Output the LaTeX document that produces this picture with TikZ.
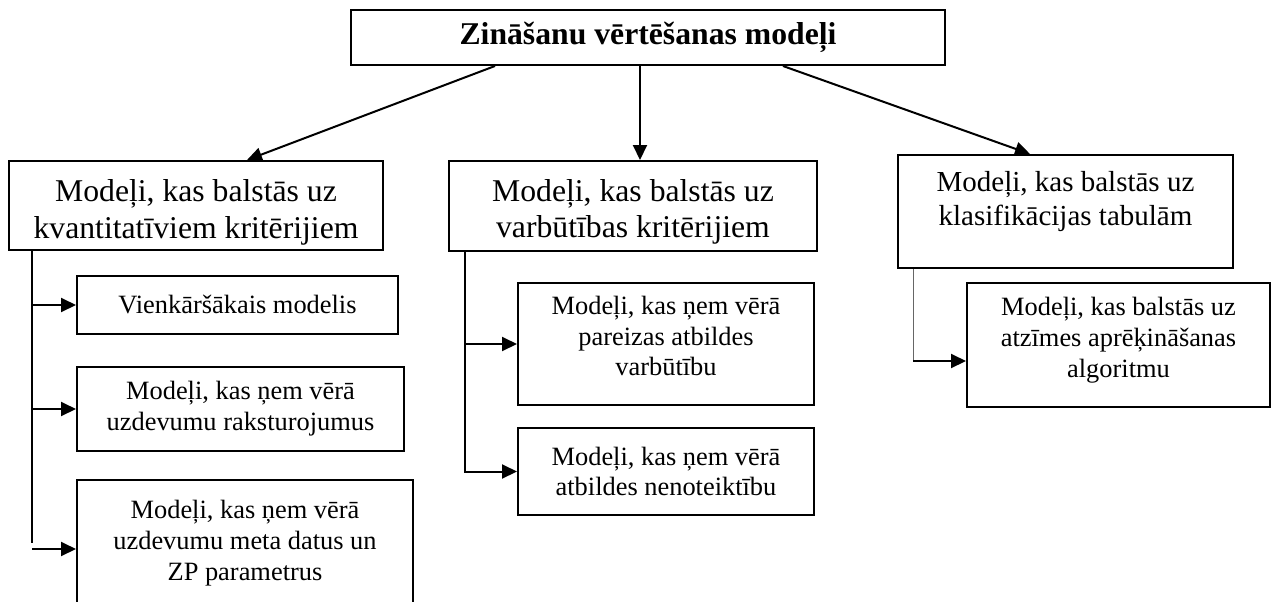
\documentclass[tikz,border=0pt]{standalone}
\usepackage{fontspec}
\setmainfont{Liberation Serif}
\usetikzlibrary{arrows.meta,calc}
\begin{document}
\begin{tikzpicture}[x=0.5pt,y=-0.5pt,
  box/.style={draw=black,line width=1pt,inner sep=0pt,align=center,fill=white},
  big/.style={font=\fontsize{15.85pt}{18.2pt}\selectfont},
  mid/.style={font=\fontsize{14.5pt}{17.4pt}\selectfont},
  small/.style={font=\fontsize{13.2pt}{15.4pt}\selectfont},
  txt/.style={inner sep=0pt,align=center},
  arr/.style={line width=1pt,-{Triangle[length=7.5pt,width=7pt]}},
  ln/.style={line width=1pt},
  thin/.style={line width=0.5pt,draw=black!60}]
\useasboundingbox[fill=white] (0,0) rectangle (1271,601);
\begin{scope}
\clip (0,0) rectangle (1271,601);
% top
\node[box,minimum width=297pt,minimum height=27.5pt,font=\bfseries\fontsize{15.85pt}{18pt}\selectfont] (top) at (648,37.5) {Zināšanu vērtēšanas modeļi};
% level 1
\node[box,minimum width=187pt,minimum height=44.5pt] (L) at (196,205.5) {};
\node[txt,big] at ([yshift=-3.5pt]L.center) {Modeļi, kas balstās uz\\kvantitatīviem kritērijiem};
\node[box,minimum width=184pt,minimum height=45pt] (M) at (633,206) {};
\node[txt,big] at ([yshift=-3pt]M.center) {Modeļi, kas balstās uz\\varbūtības kritērijiem};
\node[box,minimum width=167.5pt,minimum height=56.5pt] (R) at (1065.5,211.5) {};
\node[txt,mid] at ([yshift=5pt]R.center) {Modeļi, kas balstās uz\\klasifikācijas tabulām};
% left children
\node[box,small,minimum width=160.5pt,minimum height=29pt] (L1) at (237.5,305) {Vienkāršākais modelis};
\node[box,small,minimum width=163.5pt,minimum height=42pt] (L2) at (240.5,409) {Modeļi, kas ņem vērā\\uzdevumu raksturojumus};
\node[box,minimum width=168pt,minimum height=65pt] (L3) at (245,545) {};
\node[txt,small] at ([yshift=1pt]L3.center) {Modeļi, kas ņem vērā\\uzdevumu meta datus un\\ZP parametrus};
% middle children
\node[box,minimum width=148pt,minimum height=61pt] (M1) at (666,344) {};
\node[txt,small] at ([yshift=4pt]M1.center) {Modeļi, kas ņem vērā\\pareizas atbildes\\varbūtību};
\node[box,small,minimum width=148pt,minimum height=43.5pt] (M2) at (666,471.5) {Modeļi, kas ņem vērā\\atbildes nenoteiktību};
% right child
\node[box,minimum width=151.5pt,minimum height=62pt] (R1) at (1118.5,345) {};
\node[txt,small] at ([yshift=2.5pt]R1.center) {Modeļi, kas balstās uz\\atzīmes aprēķināšanas\\algoritmu};
% top arrows
\draw[arr] ([xshift=-76.5pt]top.south) -- ([xshift=25.5pt]L.north);
\draw[arr] ([xshift=-4pt]top.south) -- ([xshift=3.5pt]M.north);
\draw[arr] ([xshift=67.5pt]top.south) -- ([xshift=-17.75pt]R.north);
% left tree
\coordinate (ls) at ([xshift=-82pt]L.south);
\coordinate (l3t) at ([yshift=-2pt]L3.west);
\draw[ln] (ls) -- ++(0,292);
\draw[arr] (ls) |- (L1.west);
\draw[arr] (ls) |- (L2.west);
\draw[arr] (ls |- l3t) -- (l3t);
% middle tree
\coordinate (ms) at ([xshift=-84pt]M.south);
\draw[arr] (ms) |- (M1.west);
\draw[arr] (ms) |- (M2.west);
% right tree
\coordinate (rs) at ([xshift=-76.25pt]R.south);
\coordinate (rt) at ([yshift=-8pt]R1.west);
\coordinate (rc) at (rs |- rt);
\draw[thin] (rs) -- (rc);
\draw[arr] (rc) -- (rt);
\end{scope}
\end{tikzpicture}
\end{document}
